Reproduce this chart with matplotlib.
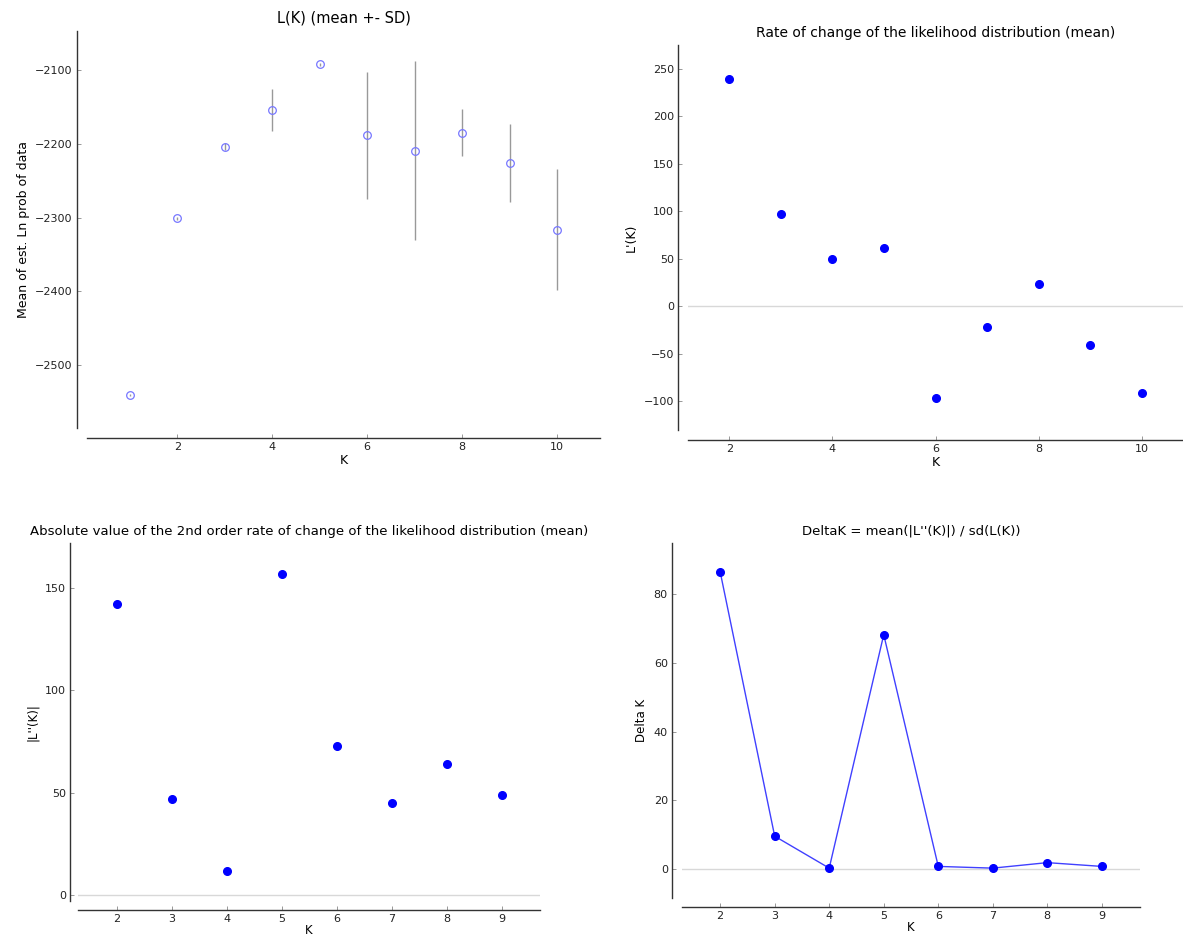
import matplotlib
matplotlib.use("Agg")
import matplotlib.pyplot as plt
from matplotlib.ticker import MultipleLocator

k_all = [1, 2, 3, 4, 5, 6, 7, 8, 9, 10]
mean_lnp = [-2540, -2301, -2204, -2154, -2092, -2188, -2209, -2185, -2226, -2316]
sd_lnp = [1.0, 1.6, 4.8, 28, 2.3, 86, 121, 32, 53, 82]

k_lprime = [2, 3, 4, 5, 6, 7, 8, 9, 10]
lprime = [239, 97, 50, 61, -96, -22, 24, -41, -91]

k_ldouble = [2, 3, 4, 5, 6, 7, 8, 9]
ldouble = [142, 47, 12, 157, 73, 45, 64, 49]

k_delta = [2, 3, 4, 5, 6, 7, 8, 9]
delta_k = [86.6, 9.6, 0.3, 68.3, 0.8, 0.3, 1.9, 0.8]

W, H = 1183, 936
fig = plt.figure(figsize=(W / 100, H / 100), dpi=100)


def box(x0, x1, y0, y1):
    # pixel box (left, right, top, bottom) -> figure fraction
    return [x0 / W, 1 - y1 / H, (x1 - x0) / W, (y1 - y0) / H]


def style(ax, off_left=10, off_bottom=10):
    # offsets given in pixels, matplotlib wants points
    for s in ["top", "right"]:
        ax.spines[s].set_visible(False)
    ax.spines["left"].set_position(("outward", off_left * 0.72))
    ax.spines["bottom"].set_position(("outward", off_bottom * 0.72))
    for s in ["left", "bottom"]:
        ax.spines[s].set_color("#333333")
        ax.spines[s].set_linewidth(1.0)
    ax.tick_params(direction="in", length=3, width=0.6, color="#888888",
                   labelsize=8, labelcolor="#222222", pad=3)
    ax.xaxis.set_ticks_position("bottom")
    ax.yaxis.set_ticks_position("left")


# L(K)
ax1 = fig.add_axes(box(87, 600, 31, 428))
style(ax1)
ax1.errorbar(k_all, mean_lnp, yerr=sd_lnp, fmt="o", mfc="none", mec="#7777ff",
             ms=5.5, mew=0.9, ecolor="#999999", elinewidth=1, capsize=0)
ax1.set_xlim(0.1, 10.9)
ax1.set_ylim(-2585, -2047)
ax1.xaxis.set_major_locator(MultipleLocator(2))
ax1.yaxis.set_major_locator(MultipleLocator(100))
ax1.set_title("L(K) (mean +- SD)", fontsize=10.5, pad=6)
ax1.set_xlabel("K", fontsize=9, labelpad=1)
ax1.set_ylabel("Mean of est. Ln prob of data", fontsize=9, labelpad=4)

# L'(K)
ax2 = fig.add_axes(box(688, 1183, 45, 430))
style(ax2)
ax2.axhline(0, color="#d8d8d8", lw=1, zorder=0)
ax2.plot(k_lprime, lprime, "o", color="blue", ms=5.5, mec="blue")
ax2.set_xlim(1.2, 10.8)
ax2.set_ylim(-130, 275)
ax2.xaxis.set_major_locator(MultipleLocator(2))
ax2.yaxis.set_major_locator(MultipleLocator(50))
ax2.set_title("Rate of change of the likelihood distribution (mean)", fontsize=10, pad=6)
ax2.set_xlabel("K", fontsize=9, labelpad=1)
ax2.set_ylabel("L'(K)", fontsize=9, labelpad=4)

# |L''(K)|
ax3 = fig.add_axes(box(78, 540, 543, 901))
style(ax3, 8, 9)
ax3.axhline(0, color="#d8d8d8", lw=1, zorder=0)
ax3.plot(k_ldouble, ldouble, "o", color="blue", ms=5.5, mec="blue")
ax3.set_xlim(1.3, 9.7)
ax3.set_ylim(-2.8, 172)
ax3.xaxis.set_major_locator(MultipleLocator(1))
ax3.yaxis.set_major_locator(MultipleLocator(50))
ax3.set_title("Absolute value of the 2nd order rate of change of the likelihood distribution (mean)",
              fontsize=9.5, pad=6)
ax3.set_xlabel("K", fontsize=8.5, labelpad=0)
ax3.set_ylabel("|L''(K)|", fontsize=8.5, labelpad=4)

# Delta K
ax4 = fig.add_axes(box(682, 1140, 543, 898))
style(ax4, 10, 9)
ax4.axhline(0, color="#d8d8d8", lw=1, zorder=0)
ax4.plot(k_delta, delta_k, "-", color="blue", lw=1, alpha=0.75)
ax4.plot(k_delta, delta_k, "o", color="blue", ms=5.5, mec="blue")
ax4.set_xlim(1.3, 9.7)
ax4.set_ylim(-8.4, 95)
ax4.xaxis.set_major_locator(MultipleLocator(1))
ax4.yaxis.set_major_locator(MultipleLocator(20))
ax4.set_title("DeltaK = mean(|L''(K)|) / sd(L(K))", fontsize=9.5, pad=6)
ax4.set_xlabel("K", fontsize=8.5, labelpad=0)
ax4.set_ylabel("Delta K", fontsize=8.5, labelpad=4)

plt.savefig("out.png", dpi=100)
